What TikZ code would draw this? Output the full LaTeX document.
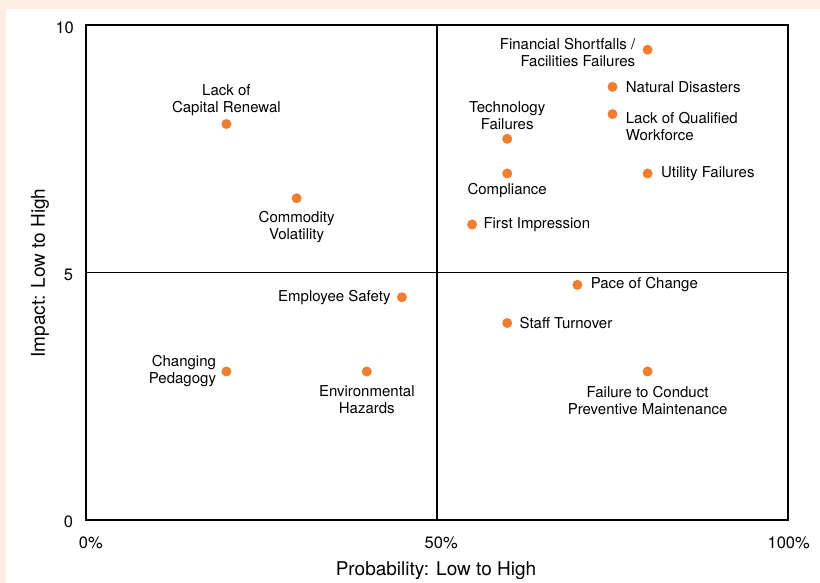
\documentclass[tikz,border=0pt]{standalone}
\usepackage{fontspec}
\setmainfont{TeX Gyre Heros}
\usetikzlibrary{positioning}
\definecolor{riskorange}{RGB}{240,126,46}
\definecolor{pagepeach}{RGB}{253,237,227}

\begin{document}
\begin{tikzpicture}[x=1pt, y=1pt,
    risk/.style={circle, fill=riskorange, inner sep=0pt, minimum size=10pt},
    lbl/.style={font=\fontsize{15}{17}\selectfont, inner sep=0pt, align=center},
    ticklbl/.style={font=\fontsize{16.5}{18}\selectfont, inner sep=0pt},
    axistitle/.style={font=\fontsize{19}{21}\selectfont, inner sep=0pt}]
        \fill[pagepeach] (0,0) rectangle (820,583);
        \fill[white] (6,0) rectangle (820,574);

        \node[axistitle] (xtitle) at (436,12) {Probability: Low to High};
        \node[axistitle, rotate=90] (ytitle) at (40,310) {Impact: Low to High};

        \begin{scope}[shift={(86pt,63pt)}, x=7.02pt, y=49.5pt]
        \draw[line width=1.5pt] (0,0) rectangle (100,10);
        \draw[line width=1.4pt] (50,0) -- (50,10);
        \draw[line width=1.4pt] (0,5) -- (100,5);

        \node[ticklbl, anchor=east] (y10) at (-1.7,9.95) {10};
        \node[ticklbl, anchor=east] (y5) at (-1.8,4.95) {5};
        \node[ticklbl, anchor=east] (y0) at (-1.8,-0.04) {0};
        \node[ticklbl] (x0) at (0.7,-0.46) {0\%};
        \node[ticklbl] (x50) at (50.6,-0.46) {50\%};
        \node[ticklbl] (x100) at (100.1,-0.46) {100\%};

        \node[risk] (capital) at (20,8) {};
        \node[lbl, above=3pt of capital] (capitalL) {Lack of\\Capital Renewal};

        \node[risk] (commodity) at (30,6.5) {};
        \node[lbl, below=8pt of commodity] (commodityL) {Commodity\\Volatility};

        \node[risk] (safety) at (45,4.5) {};
        \node[lbl, left=6pt of safety] (safetyL) {Employee Safety};

        \node[risk] (pedagogy) at (20,3) {};
        \node[lbl, align=right, left=5pt of pedagogy] (pedagogyL) {Changing\\Pedagogy};

        \node[risk] (hazards) at (40,3) {};
        \node[lbl, below=9pt of hazards] (hazardsL) {Environmental\\Hazards};

        \node[risk] (financial) at (80,9.5) {};
        \node[lbl, align=right, left=7pt of financial, yshift=-2.5pt] (financialL) {Financial Shortfalls /\\Facilities Failures};

        \node[risk] (disasters) at (75,8.75) {};
        \node[lbl, right=8pt of disasters] (disastersL) {Natural Disasters};

        \node[risk] (qualified) at (75,8.2) {};
        \node[lbl, align=left, anchor=north west] (qualifiedL) at ([xshift=8pt, yshift=2pt]qualified.east) {Lack of Qualified\\Workforce};

        \node[risk] (technology) at (60,7.7) {};
        \node[lbl, above=4pt of technology] (technologyL) {Technology\\Failures};

        \node[risk] (compliance) at (60,7) {};
        \node[lbl, below=4pt of compliance] (complianceL) {Compliance};

        \node[risk] (utility) at (80,7) {};
        \node[lbl, right=8pt of utility] (utilityL) {Utility Failures};

        \node[risk] (impression) at (55,5.97) {};
        \node[lbl, right=6pt of impression] (impressionL) {First Impression};

        \node[risk] (pace) at (70,4.75) {};
        \node[lbl, right=8pt of pace] (paceL) {Pace of Change};

        \node[risk] (turnover) at (60,3.98) {};
        \node[lbl, right=7pt of turnover] (turnoverL) {Staff Turnover};

        \node[risk] (maintenance) at (80,3) {};
        \node[lbl, below=9pt of maintenance] (maintenanceL) {Failure to Conduct\\Preventive Maintenance};
        \end{scope}
      \end{tikzpicture}
\end{document}
